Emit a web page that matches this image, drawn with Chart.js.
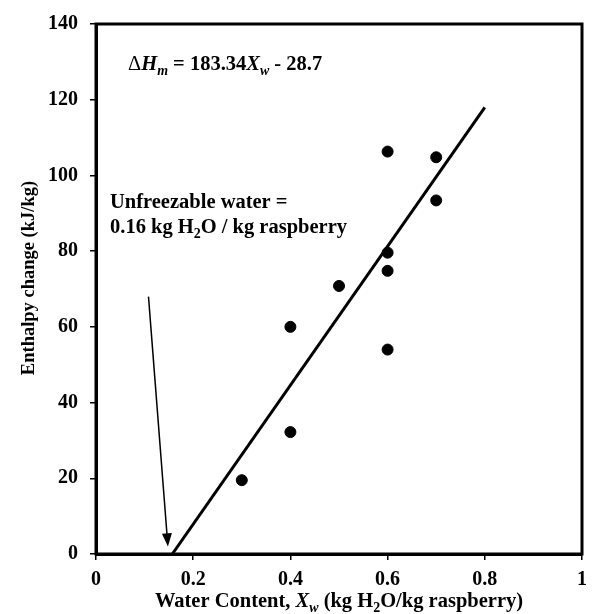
<!DOCTYPE html>
<html>
<head>
<meta charset="utf-8">
<script src="https://cdn.jsdelivr.net/npm/chart.js@4"></script>
<style>html, body { margin: 0; padding: 0; background: #fff; }</style>
</head>
<body>
<canvas id="myChart" width="595" height="614"></canvas>
<script>
// measured data
var waterContent = [0.3, 0.4, 0.4, 0.5, 0.6, 0.6, 0.6, 0.6, 0.7, 0.7];
var enthalpyChange = [19.5, 32.2, 60, 70.8, 106.3, 79.6, 74.8, 54, 104.8, 93.4];
// regression line end points
var fitX = [0.157, 0.8];
var fitY = [0, 118];
// arrow pointing at unfreezable water
var arrowX = [0.108, 0.148];
var arrowY = [68, 2];
var xTicks = [0, 0.2, 0.4, 0.6, 0.8, 1];
var yTicks = [0, 20, 40, 60, 80, 100, 120, 140];

var FONT = '"Liberation Serif", "Times New Roman", serif';

function drawRich(ctx, x, y, parts, size, align) {
  function setFont(p) {
    var fs = p.sub ? size * 0.68 : size;
    ctx.font = (p.italic ? 'italic ' : '') + (p.normal ? '' : 'bold ') + fs + 'px ' + FONT;
  }
  var total = 0;
  parts.forEach(function (p) { setFont(p); total += ctx.measureText(p.t).width; });
  if (align === 'center') x -= total / 2;
  ctx.textAlign = 'left';
  ctx.textBaseline = 'alphabetic';
  parts.forEach(function (p) {
    setFont(p);
    ctx.fillText(p.t, x, y + (p.sub ? size * 0.25 : 0));
    x += ctx.measureText(p.t).width;
  });
}

var extras = {
  id: 'extras',
  afterDraw: function (chart) {
    var ctx = chart.ctx, a = chart.chartArea;
    var xs = chart.scales.x, ys = chart.scales.y;
    ctx.save();
    ctx.fillStyle = '#000';
    ctx.strokeStyle = '#000';

    // frame
    ctx.lineWidth = 3;
    ctx.strokeRect(a.left, a.top, a.right - a.left, a.bottom - a.top);

    // arrow
    var x1 = xs.getPixelForValue(arrowX[0]), y1 = ys.getPixelForValue(arrowY[0]);
    var x2 = xs.getPixelForValue(arrowX[1]), y2 = ys.getPixelForValue(arrowY[1]);
    var ang = Math.atan2(y2 - y1, x2 - x1);
    ctx.lineWidth = 1.5;
    ctx.beginPath();
    ctx.moveTo(x1, y1);
    ctx.lineTo(x2 - 10 * Math.cos(ang), y2 - 10 * Math.sin(ang));
    ctx.stroke();
    ctx.beginPath();
    ctx.moveTo(x2, y2);
    ctx.lineTo(x2 - 13 * Math.cos(ang) + 5 * Math.sin(ang), y2 - 13 * Math.sin(ang) - 5 * Math.cos(ang));
    ctx.lineTo(x2 - 13 * Math.cos(ang) - 5 * Math.sin(ang), y2 - 13 * Math.sin(ang) + 5 * Math.cos(ang));
    ctx.closePath();
    ctx.fill();

    // equation
    drawRich(ctx, 128, 70, [
      { t: '\u0394', normal: true },
      { t: 'H', italic: true },
      { t: 'm', italic: true, sub: true },
      { t: ' = 183.34' },
      { t: 'X', italic: true },
      { t: 'w', italic: true, sub: true },
      { t: ' - 28.7' }
    ], 20.5);

    // unfreezable water note
    drawRich(ctx, 110, 208, [{ t: 'Unfreezable water =' }], 20.5);
    drawRich(ctx, 110, 233, [
      { t: '0.16 kg H' },
      { t: '2', sub: true },
      { t: 'O / kg raspberry' }
    ], 20.5);

    // x axis title
    drawRich(ctx, (a.left + a.right) / 2, 607, [
      { t: 'Water Content, ' },
      { t: 'X', italic: true },
      { t: 'w', italic: true, sub: true },
      { t: ' (kg H' },
      { t: '2', sub: true },
      { t: 'O/kg raspberry)' }
    ], 20.5, 'center');

    // y axis title
    ctx.translate(34, 278);
    ctx.rotate(-Math.PI / 2);
    drawRich(ctx, 0, 0, [{ t: 'Enthalpy change (kJ/kg)' }], 18.5, 'center');
    ctx.restore();
  }
};

var ctx = document.getElementById('myChart').getContext('2d');

var myChart = new Chart(ctx, {
  type: 'scatter',
  data: {
    datasets: [{
      label: 'Measured',
      data: waterContent.map(function (x, i) { return { x: x, y: enthalpyChange[i] }; }),
      backgroundColor: '#000',
      borderColor: '#000',
      pointRadius: 5.5,
      pointHoverRadius: 5.5
    }, {
      label: 'Fit',
      data: fitX.map(function (x, i) { return { x: x, y: fitY[i] }; }),
      showLine: true,
      borderColor: '#000',
      borderWidth: 3,
      pointRadius: 0,
      fill: false
    }]
  },
  options: {
    responsive: false,
    animation: false,
    layout: { padding: { top: 18, right: 11, left: 0, bottom: 0 } },
    plugins: { legend: { display: false }, tooltip: { enabled: false } },
    scales: {
      x: {
        type: 'linear',
        min: 0,
        max: 1,
        afterBuildTicks: function (s) { s.ticks = xTicks.map(function (v) { return { value: v }; }); },
        afterFit: function (s) { s.height = 60; },
        ticks: {
          color: '#000',
          padding: 8,
          font: { family: FONT, size: 20, weight: 'bold' },
          callback: function (v) { return String(v); }
        },
        grid: { drawOnChartArea: false, drawTicks: true, tickLength: 6, color: '#000', lineWidth: 1.5 },
        border: { color: '#000', width: 3 }
      },
      y: {
        type: 'linear',
        min: 0,
        max: 140,
        afterBuildTicks: function (s) { s.ticks = yTicks.map(function (v) { return { value: v }; }); },
        afterFit: function (s) { s.width = 96; },
        ticks: {
          color: '#000',
          padding: 12,
          font: { family: FONT, size: 20, weight: 'bold' },
          callback: function (v) { return String(v); }
        },
        grid: { drawOnChartArea: false, drawTicks: true, tickLength: 6, color: '#000', lineWidth: 1.5 },
        border: { color: '#000', width: 3 }
      }
    }
  },
  plugins: [extras]
});
</script>
</body>
</html>
